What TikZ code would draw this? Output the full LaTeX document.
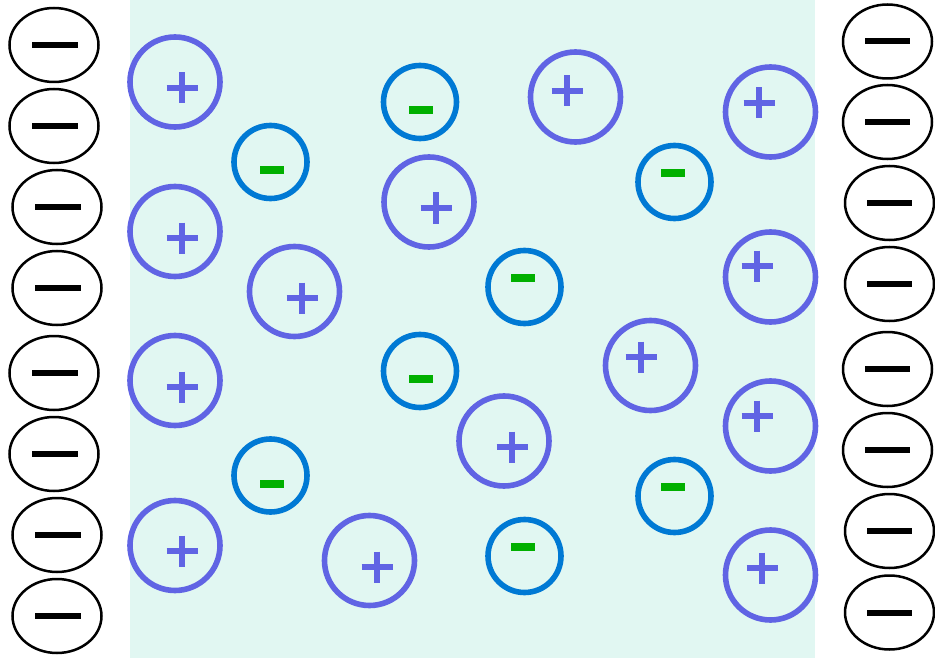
\documentclass[tikz,border=0pt]{standalone}
\usetikzlibrary{shapes.geometric,calc}
\definecolor{bgteal}{RGB}{225,247,242}
\definecolor{posring}{RGB}{96,100,228}
\definecolor{negring}{RGB}{0,121,212}
\definecolor{neggreen}{RGB}{0,176,0}
\tikzset{
  posion/.style={circle,draw=posring,line width=5.6pt,minimum size=90pt,inner sep=0pt},
  negion/.style={circle,draw=negring,line width=5.6pt,minimum size=73pt,inner sep=0pt},
  electrode/.style={ellipse,draw=black,line width=2.5pt,fill=white,minimum width=89pt,minimum height=74pt,inner sep=0pt},
  plusmark/.style={draw=posring,line width=5.5pt},
  minusmark/.style={fill=neggreen},
  dashmark/.style={fill=black},
}
\begin{document}
\begin{tikzpicture}[x=1pt,y=-1pt]
\useasboundingbox (0,0) rectangle (935,658);
\fill[bgteal] (130,0) rectangle (815,658);
% left electrode charges
\foreach \n/\x/\y in {1/54/45,2/54/126,3/57/207,4/57/288,5/54/373,6/54/454,7/57/535,8/57/616}{
  \node[electrode] (l\n) at (\x,\y) {};
  \fill[dashmark] ($(l\n)+(1-23,-3)$) rectangle ++(46,6);
}
% right electrode charges
\foreach \n/\x/\y in {1/887.5/41.5,2/887.5/122,3/889.5/203,4/889.5/284,5/887.5/369,6/887.5/450,7/889.5/531,8/889.5/612.5}{
  \node[electrode] (r\n) at (\x,\y) {};
  \fill[dashmark] ($(r\n)+(-22.5,-3)$) rectangle ++(45,6);
}
% positive ions
\foreach \n/\x/\y/\dx/\dy in {1/175/82/7/6, 2/175/231.5/7/6.5, 3/294.5/291.5/7.5/6.5, 4/175/380.5/7/6.5,
  5/175/545.5/7/5.5, 6/369.5/560.5/7.5/6.5, 7/429/202/7/6, 8/504/441/8/6,
  9/575.5/97/-8.5/-6, 10/770.5/112/-11.5/-9, 11/770.5/277/-13.5/-11, 12/650.5/365.5/-9.5/-8.5,
  13/770.5/426/-13.5/-10, 14/770.5/575/-8.5/-7}{
  \node[posion] (p\n) at (\x,\y) {};
  \draw[plusmark] ($(p\n)+(\dx-15.5,\dy)$) -- ++(31,0)
                  ($(p\n)+(\dx,\dy-15.5)$) -- ++(0,31);
}
% negative ions
\foreach \n/\x/\y/\dx/\dy in {1/270.5/162/1.5/8, 2/420/102/1/8, 3/674.5/182/-1.5/-9, 4/524.5/287/-1.5/-9,
  5/420/371/1/8, 6/270.5/475.5/1.5/8.5, 7/674.5/496/-1.5/-9, 8/524.5/556/-1.5/-9}{
  \node[negion] (m\n) at (\x,\y) {};
  \fill[minusmark] ($(m\n)+(\dx-12,\dy-4)$) rectangle ++(24,8);
}
\end{tikzpicture}
\end{document}
